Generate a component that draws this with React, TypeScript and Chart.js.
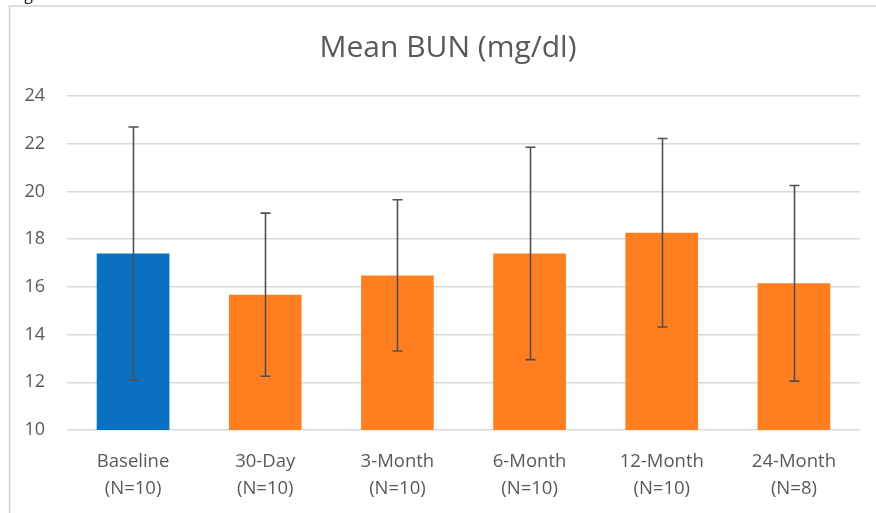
import React, { useEffect, useRef } from "react";
import { Chart, registerables } from "chart.js";

Chart.register(...registerables);

const categories: string[][] = [
  ["Baseline", "(N=10)"],
  ["30-Day", "(N=10)"],
  ["3-Month", "(N=10)"],
  ["6-Month", "(N=10)"],
  ["12-Month", "(N=10)"],
  ["24-Month", "(N=8)"],
];
const meanBUN: number[] = [17.4, 15.67, 16.48, 17.4, 18.27, 16.15];
const sdBUN: number[] = [5.3, 3.42, 3.17, 4.45, 3.95, 4.1];
const barColors: string[] = ["#0A70C2", "#FF7F20", "#FF7F20", "#FF7F20", "#FF7F20", "#FF7F20"];
const yMin = 10;
const yMax = 24;
const yStep = 2;
const titleText = "Mean BUN (mg/dl)";

const FONT = "'Open Sans', sans-serif";
const TEXT = "#595959";

const decorPlugin = {
  id: "decor",
  beforeDraw(chart: any) {
    const ctx = chart.ctx;
    ctx.save();
    ctx.fillStyle = "#ffffff";
    ctx.fillRect(0, 0, chart.width, chart.height);
    ctx.fillStyle = "#222";
    ctx.font = `16px ${FONT}`;
    ctx.textBaseline = "alphabetic";
    ctx.fillText("Figure", 12, 0);
    ctx.strokeStyle = "#D4D4D4";
    ctx.lineWidth = 1.5;
    ctx.beginPath();
    ctx.moveTo(9.5, chart.height);
    ctx.lineTo(9.5, 6);
    ctx.lineTo(chart.width, 6);
    ctx.stroke();
    ctx.restore();
  },
  afterDraw(chart: any) {
    const ctx = chart.ctx;
    ctx.save();
    ctx.fillStyle = TEXT;
    ctx.font = `30px ${FONT}`;
    ctx.textAlign = "center";
    ctx.textBaseline = "alphabetic";
    ctx.fillText(titleText, 448, 57);
    ctx.restore();
  },
};

const errorBarPlugin = {
  id: "errorBars",
  afterDatasetsDraw(chart: any) {
    const ctx = chart.ctx;
    const meta = chart.getDatasetMeta(0);
    const y = chart.scales.y;
    ctx.save();
    ctx.strokeStyle = "#505050";
    ctx.lineWidth = 1.6;
    meta.data.forEach((bar: any, i: number) => {
      const x = Math.round(bar.x) + 0.5;
      const top = y.getPixelForValue(meanBUN[i] + sdBUN[i]);
      const bot = y.getPixelForValue(meanBUN[i] - sdBUN[i]);
      ctx.beginPath();
      ctx.moveTo(x, top);
      ctx.lineTo(x, bot);
      ctx.moveTo(x - 5, top);
      ctx.lineTo(x + 5, top);
      ctx.moveTo(x - 5, bot);
      ctx.lineTo(x + 5, bot);
      ctx.stroke();
    });
    ctx.restore();
  },
};

export default function App() {
  const ref = useRef<HTMLCanvasElement | null>(null);
  useEffect(() => {
    document.body.style.margin = "0";
    if (!ref.current) return;
    const chart = new Chart(ref.current, {
      type: "bar",
      data: {
        labels: categories as any,
        datasets: [
          {
            data: meanBUN,
            backgroundColor: barColors,
            borderWidth: 0,
            barPercentage: 0.55,
            categoryPercentage: 1,
          },
        ],
      },
      options: {
        animation: false,
        responsive: false,
        devicePixelRatio: 1,
        layout: { padding: { top: 96, right: 16, left: 0, bottom: 0 } },
        plugins: {
          legend: { display: false },
          tooltip: { enabled: false },
          title: { display: false },
        },
        scales: {
          x: {
            grid: { display: false },
            border: { display: false },
            ticks: {
              color: TEXT,
              font: { family: FONT, size: 18.5, lineHeight: 1.42 },
              padding: 11,
              maxRotation: 0,
              autoSkip: false,
            },
            afterFit: (s: any) => {
              s.height = 83;
            },
          },
          y: {
            min: yMin,
            max: yMax,
            grid: { color: "#D9D9D9", lineWidth: 1.5, drawTicks: false },
            border: { display: false },
            ticks: {
              stepSize: yStep,
              color: TEXT,
              font: { family: FONT, size: 18 },
              padding: 22,
            },
            afterFit: (s: any) => {
              s.width = 67;
            },
          },
        },
      },
      plugins: [decorPlugin, errorBarPlugin],
    });
    return () => chart.destroy();
  }, []);
  return (
    <div style={{ position: "fixed", left: 0, top: 0, width: 876, height: 513 }}>
      <canvas ref={ref} width={876} height={513} />
    </div>
  );
}
